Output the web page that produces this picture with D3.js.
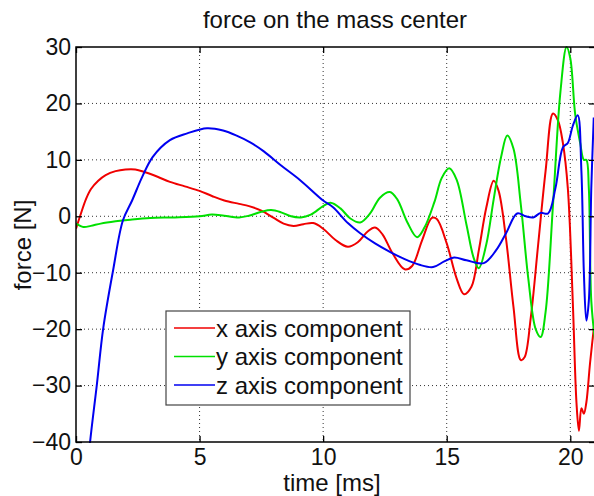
<!DOCTYPE html>
<html>
<head>
<meta charset="utf-8">
<script src="https://cdnjs.cloudflare.com/ajax/libs/d3/7.8.5/d3.min.js"></script>
<style>
  body { margin: 0; background: #fff; }
  svg { display: block; font-family: "Liberation Sans", Arial, sans-serif; }
  .grid line { stroke: #333; stroke-dasharray: 1,3; stroke-width: 1; }
  .axis path.domain { display: none; }
  .axis .tick line { stroke: #000; stroke-width: 1.3; }
  .axis text { font-size: 23px; fill: #111; }
</style>
</head>
<body>
<svg width="594" height="496"></svg>
<script>
// series: [time ms, force N]
const xComponent = [[0,-2.2],[0.2,0.5],[0.4,3],[0.6,4.8],[0.9,6.3],[1.2,7.3],[1.6,8.0],[2.0,8.3],[2.4,8.3],[2.8,7.8],[3.3,7.0],[3.8,6.1],[4.4,5.3],[5.0,4.5],[5.5,3.6],[6.0,2.8],[6.6,2.2],[7.0,1.8],[7.5,1.0],[8.0,-0.3],[8.4,-1.3],[8.8,-1.7],[9.2,-1.4],[9.6,-1.2],[10.0,-2.2],[10.5,-4.2],[11.0,-5.4],[11.4,-4.6],[11.8,-2.7],[12.1,-2.0],[12.4,-3.2],[12.8,-6.5],[13.3,-9.4],[13.6,-8.8],[14.0,-4.3],[14.4,-0.3],[14.6,-0.5],[15.0,-4.8],[15.4,-11.0],[15.7,-13.8],[16.0,-12.5],[16.3,-6],[16.6,1.5],[16.9,6.3],[17.1,4.5],[17.4,-4],[17.7,-16],[18.0,-25.5],[18.15,-25],[18.4,-18],[18.7,-5],[19.0,8],[19.3,18.2],[19.5,17],[19.7,13],[19.9,5],[20.1,-15],[20.25,-33],[20.35,-38],[20.45,-34],[20.55,-35],[20.65,-33],[20.8,-26],[21.0,-18]];
const yComponent = [[0,-1.3],[0.3,-1.9],[0.6,-1.7],[1.0,-1.3],[1.6,-0.9],[2.2,-0.6],[3.0,-0.3],[4.0,-0.2],[5.0,0],[5.5,0.3],[6.0,0.1],[6.6,-0.2],[7.0,0.1],[7.5,0.8],[7.9,1.1],[8.3,0.7],[8.7,0.0],[9.1,-0.2],[9.5,0.3],[10.0,1.8],[10.3,2.4],[10.7,1.4],[11.1,-0.4],[11.5,-1.1],[11.9,0.5],[12.3,3.3],[12.7,4.3],[13.0,3.0],[13.4,-1],[13.8,-3.7],[14.1,-2],[14.5,2.5],[14.8,6.8],[15.1,8.5],[15.4,6.5],[15.8,-1.5],[16.1,-7.5],[16.3,-9.2],[16.6,-5],[16.9,3],[17.2,10.5],[17.45,14.3],[17.7,12],[18.0,2],[18.3,-11],[18.6,-20],[18.8,-21.4],[19.0,-17],[19.3,2],[19.6,22],[19.85,30],[20.0,28],[20.2,18],[20.4,13],[20.55,10],[20.65,10],[20.75,5],[20.85,-15],[21.0,-22]];
const zComponent = [[0.45,-46],[0.57,-40],[0.85,-29.6],[1.1,-19.9],[1.5,-9.6],[1.9,-0.7],[2.27,2.8],[2.67,6.9],[3.1,10.5],[3.8,13.5],[4.5,14.7],[5.3,15.6],[5.95,15.2],[6.5,14.3],[7.05,13.1],[7.6,11.5],[8.3,9],[9.07,6.4],[10.0,2.8],[10.4,1.6],[11.0,-1.2],[11.5,-3],[12.1,-4.8],[12.7,-6.3],[13.3,-7.6],[13.9,-8.6],[14.45,-9],[14.9,-8],[15.3,-7.3],[15.8,-7.8],[16.5,-8.3],[17.0,-6],[17.4,-3],[17.85,0.5],[18.2,0],[18.5,-0.2],[18.8,0.6],[19.1,0.5],[19.4,5],[19.7,12.2],[19.9,13],[20.1,16],[20.3,17.9],[20.45,8],[20.55,-10],[20.65,-18.5],[20.75,-15],[20.85,5],[20.95,17.5]];

const seriesNames = ["x axis component", "y axis component", "z axis component"];
const xTicks = [0, 5, 10, 15, 20];
const yTicks = [-40, -30, -20, -10, 0, 10, 20, 30];

const red = "#f00000", green = "#00e000", blue = "#0000f0";
const colors = [red, green, blue];

const svg = d3.select("svg");
const plotLeft = 76, plotRight = 595, plotTop = 47, plotBottom = 442;

const xScale = d3.scaleLinear().domain([0, 21]).range([plotLeft, plotRight]);
const yScale = d3.scaleLinear().domain([-40, 30]).range([plotBottom, plotTop]);

// dotted grid
const grid = svg.append("g").attr("class", "grid");
grid.selectAll("line.v").data(xTicks.slice(1)).enter().append("line")
  .attr("x1", d => xScale(d)).attr("x2", d => xScale(d))
  .attr("y1", plotTop).attr("y2", plotBottom);
grid.selectAll("line.h").data(yTicks.slice(1, -1)).enter().append("line")
  .attr("x1", plotLeft).attr("x2", plotRight)
  .attr("y1", d => yScale(d)).attr("y2", d => yScale(d));

// lines, clipped to the axes box
svg.append("clipPath").attr("id", "plotclip").append("rect")
  .attr("x", plotLeft).attr("y", plotTop - 1)
  .attr("width", plotRight - plotLeft).attr("height", plotBottom - plotTop + 2);

const line = d3.line()
  .x(d => xScale(d[0]))
  .y(d => yScale(d[1]))
  .curve(d3.curveCatmullRom.alpha(0.5));

const plot = svg.append("g").attr("clip-path", "url(#plotclip)");
[xComponent, yComponent, zComponent].forEach((s, i) => {
  plot.append("path")
    .attr("d", line(s))
    .attr("fill", "none")
    .attr("stroke", colors[i])
    .attr("stroke-width", 2);
});

// axes with inward ticks on all four sides
svg.append("g").attr("class", "axis")
  .attr("transform", `translate(0,${plotBottom})`)
  .call(d3.axisBottom(xScale).tickValues(xTicks).tickSize(-6).tickPadding(7));
svg.append("g").attr("class", "axis")
  .attr("transform", `translate(0,${plotTop})`)
  .call(d3.axisTop(xScale).tickValues(xTicks).tickSize(-6).tickFormat(""));
svg.append("g").attr("class", "axis")
  .attr("transform", `translate(${plotLeft},0)`)
  .call(d3.axisLeft(yScale).tickValues(yTicks).tickSize(-6).tickPadding(5));
svg.append("g").attr("class", "axis")
  .attr("transform", `translate(${plotRight},0)`)
  .call(d3.axisRight(yScale).tickValues(yTicks).tickSize(-6).tickFormat(""));

svg.append("rect")
  .attr("x", plotLeft).attr("y", plotTop)
  .attr("width", plotRight - plotLeft).attr("height", plotBottom - plotTop)
  .attr("fill", "none").attr("stroke", "#000").attr("stroke-width", 1.5);

// titles
svg.append("text").attr("x", 335).attr("y", 28)
  .attr("text-anchor", "middle").attr("font-size", 24).attr("fill", "#111")
  .text("force on the mass center");
svg.append("text").attr("x", 332).attr("y", 491)
  .attr("text-anchor", "middle").attr("font-size", 24).attr("fill", "#111")
  .text("time [ms]");
svg.append("text")
  .attr("transform", "translate(31,245) rotate(-90)")
  .attr("text-anchor", "middle").attr("font-size", 24).attr("fill", "#111")
  .text("force [N]");

// legend
const legend = svg.append("g").attr("transform", "translate(166,311)");
legend.append("rect").attr("width", 244).attr("height", 94)
  .attr("fill", "#fff").attr("stroke", "#444").attr("stroke-width", 1.2);
const rows = legend.selectAll("g.row").data(seriesNames).enter().append("g")
  .attr("transform", (d, i) => `translate(0,${17 + i * 28.5})`);
rows.append("line").attr("x1", 8).attr("x2", 49).attr("y1", 0).attr("y2", 0)
  .attr("stroke", (d, i) => colors[i]).attr("stroke-width", 1.5);
rows.append("text").attr("x", 50).attr("y", 8.5)
  .attr("font-size", 24).attr("fill", "#111")
  .text(d => d);
</script>
</body>
</html>
